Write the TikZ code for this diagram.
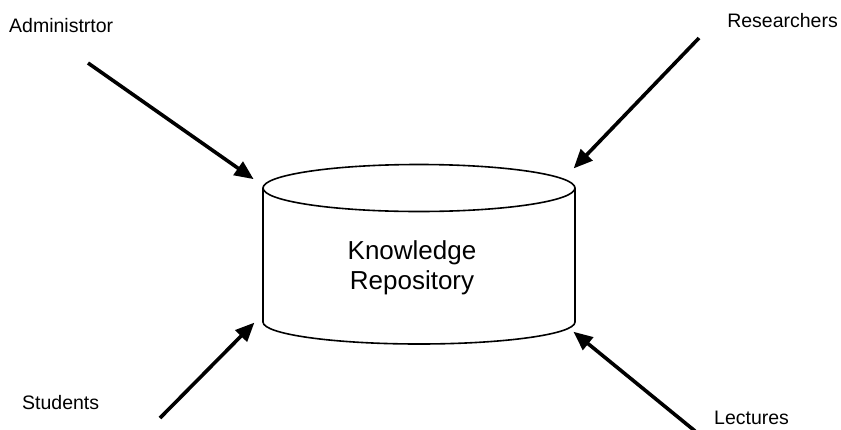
\documentclass[tikz,border=0pt]{standalone}
\usepackage{fontspec}
\setmainfont{Liberation Sans}
\usetikzlibrary{arrows.meta}
\begin{document}
\begin{tikzpicture}[x=1pt,y=-1pt,
  role/.style={inner sep=0pt,font=\fontsize{19.5}{22}\selectfont},
  feed/.style={line width=3.6pt,-{Triangle[length=19pt,width=16pt]},shorten >=-2pt},
  drum/.style={line width=1.6pt,line join=round}]
\useasboundingbox (0,0) rectangle (841,429);

% repository drum: top ellipse, sides and lower rim
\draw[drum] (419,188) ellipse [x radius=156, y radius=23.5];
\draw[drum] (263,188) -- (263,322) arc [start angle=180, end angle=0, x radius=156, y radius=22] -- (575,188);
\node[inner sep=0pt,align=center,font=\fontsize{26}{30}\selectfont] (repo) at (412,268) {Knowledge\\Repository};

% actors
\node[role,anchor=west] (admin) at (9,26) {Administrtor};
\node[role,anchor=east] (res) at (838,21) {Researchers};
\node[role,anchor=west] (stud) at (22,403) {Students};
\node[role,anchor=west] (lect) at (714,418) {Lectures};

% arrow end points
\coordinate (a0) at (88,63);   \coordinate (a1) at (252,178);
\coordinate (r0) at (699,38);  \coordinate (r1) at (575,167);
\coordinate (s0) at (160,418); \coordinate (s1) at (253,324);
\coordinate (l0) at (695,431); \coordinate (l1) at (575,333);

\draw[feed] (a0) -- (a1);
\draw[feed] (r0) -- (r1);
\draw[feed] (s0) -- (s1);
\draw[feed] (l0) -- (l1);
\end{tikzpicture}
\end{document}
